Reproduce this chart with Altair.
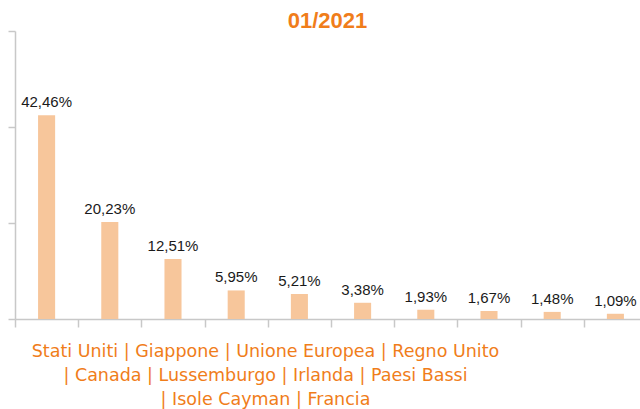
import altair as alt
import pandas as pd

countries = ["Stati Uniti", "Giappone", "Unione Europea", "Regno Unito", "Canada",
             "Lussemburgo", "Irlanda", "Paesi Bassi", "Isole Cayman", "Francia"]
shares = [42.46, 20.23, 12.51, 5.95, 5.21, 3.38, 1.93, 1.67, 1.48, 1.09]
y_ticks = [0, 20, 40, 60]
legend_lines = ["Stati Uniti | Giappone | Unione Europea | Regno Unito",
                "| Canada | Lussemburgo | Irlanda | Paesi Bassi",
                "| Isole Cayman | Francia"]

df = pd.DataFrame({"paese": countries, "quota": shares})
df["etichetta"] = [f"{v:.2f}".replace(".", ",") + "%" for v in shares]

ORANGE = "#F07D1A"
BAR = "#F7C69B"
GRAY = "#C8C8C8"

x_enc = alt.X("paese:N", sort=countries,
              scale=alt.Scale(range=[0, 632], paddingInner=0, paddingOuter=0),
              axis=alt.Axis(labels=False, tickBand="extent", tickSize=8, tickColor=GRAY,
                            domainColor=GRAY, tickWidth=1.5, domainWidth=1.5,
                            title=legend_lines, titleFont="DejaVu Sans", titleFontSize=17.5,
                            titleFontWeight="normal", titleColor=ORANGE, titleLineHeight=24,
                            titleAlign="center", titleBaseline="alphabetic",
                            titleX=250, titleY=37, titleAnchor="start"))
y_enc = alt.Y("quota:Q", scale=alt.Scale(domain=[0, 60], nice=False),
              axis=alt.Axis(values=y_ticks, labels=False, title=None, grid=False,
                            tickSize=7, tickColor=GRAY, domainColor=GRAY,
                            tickWidth=1.5, domainWidth=1.5))

bars = alt.Chart(df).mark_bar(color=BAR, width=alt.RelativeBandSize(0.27)).encode(x=x_enc, y=y_enc)
labels = alt.Chart(df).mark_text(font="Liberation Sans", fontSize=15, color="#1a1a1a",
                                 baseline="alphabetic", dy=-8).encode(
    x=alt.X("paese:N", sort=countries), y="quota:Q", text="etichetta:N")

chart = (bars + labels).properties(
    width=625, height=288,
    title=alt.TitleParams("01/2021", font="Liberation Sans", fontSize=22, fontWeight="bold",
                          color=ORANGE, anchor="middle", offset=2, dy=5),
    autosize=alt.AutoSizeParams(type="none"),
    padding={"left": 15, "top": 31, "right": 0, "bottom": 90},
    background="white",
).configure_view(stroke=None)

chart.save("out.html", embed_options={"renderer": "svg", "actions": False})
